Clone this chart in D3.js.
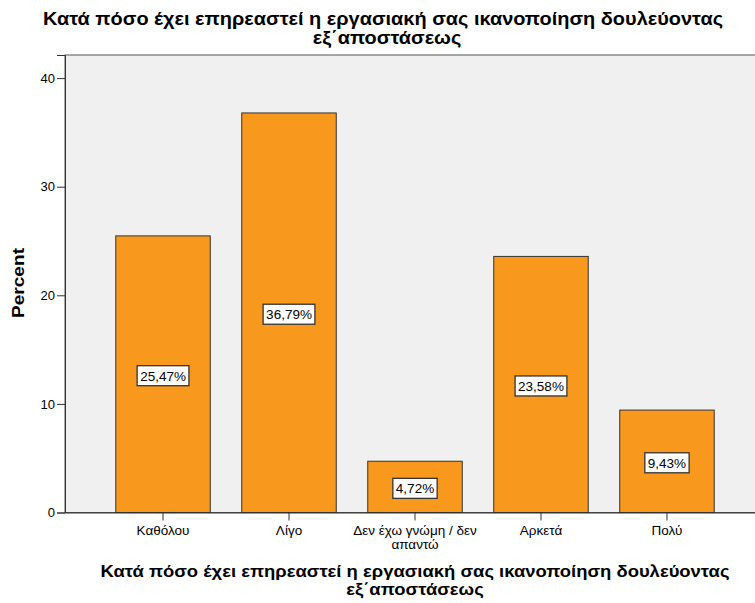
<!DOCTYPE html>
<html>
<head>
<meta charset="utf-8">
<script src="https://cdn.jsdelivr.net/npm/d3@7/dist/d3.min.js"></script>
<style>
  html, body { margin: 0; padding: 0; background: #ffffff; }
  svg { display: block; }
  text { font-family: "Liberation Sans", Arial, sans-serif; fill: #000; }
</style>
</head>
<body>
<svg id="chart" width="755" height="603"></svg>
<script>
// Survey answers and their share of respondents (%)
const categories = ["Καθόλου", "Λίγο", "Δεν έχω γνώμη / δεν απαντώ", "Αρκετά", "Πολύ"];
const percents = [25.47, 36.79, 4.72, 23.58, 9.43];
const yTicks = [0, 10, 20, 30, 40];
const titleLines = ["Κατά πόσο έχει επηρεαστεί η εργασιακή σας ικανοποίηση δουλεύοντας", "εξ΄αποστάσεως"];
const yLabel = "Percent";

const svg = d3.select("#chart");
const plot = { left: 65, right: 765, top: 55, bottom: 512.5 };
const FONT = "'Liberation Sans', Arial, sans-serif";

const x = d3.scaleBand()
  .domain(categories)
  .range([plot.left, plot.right])
  .paddingInner(0.25)
  .paddingOuter(0.403);

const y = d3.scaleLinear()
  .domain([0, (plot.bottom - plot.top) / 10.86])
  .range([plot.bottom, plot.top]);

// plot background
svg.append("rect")
  .attr("x", plot.left).attr("y", plot.top)
  .attr("width", plot.right - plot.left).attr("height", plot.bottom - plot.top)
  .attr("fill", "#f0f0f0")
  .attr("stroke", "#555").attr("stroke-width", 1);

// bars
svg.append("g").selectAll("rect")
  .data(percents)
  .join("rect")
  .attr("x", (d, i) => x(categories[i]))
  .attr("y", d => y(d))
  .attr("width", x.bandwidth())
  .attr("height", d => y(0) - y(d))
  .attr("fill", "#f8981d")
  .attr("stroke", "#333").attr("stroke-width", 1);

// y axis
const yAxis = d3.axisLeft(y).tickValues(yTicks).tickSize(8).tickPadding(2).tickFormat(d3.format("d"));
const gy = svg.append("g").attr("transform", `translate(${plot.left},0)`).call(yAxis);
gy.select(".domain").attr("stroke", "#333");
gy.selectAll(".tick line").attr("stroke", "#333");
gy.selectAll(".tick text").attr("font-size", 13).attr("fill", "#222").style("font-family", FONT);

// x axis
const xAxis = d3.axisBottom(x).tickSize(8).tickSizeOuter(0).tickPadding(3);
const gx = svg.append("g").attr("transform", `translate(0,${plot.bottom})`).call(xAxis);
gx.select(".domain").attr("stroke", "#333");
gx.selectAll(".tick line").attr("stroke", "#333");
gx.selectAll(".tick text").attr("font-size", 13.5).attr("fill", "#222").style("font-family", FONT)
  .attr("y", 0).attr("dy", null)
  .each(function(d) {
    const t = d3.select(this);
    const parts = d === "Δεν έχω γνώμη / δεν απαντώ" ? ["Δεν έχω γνώμη / δεν", "απαντώ"] : [d];
    t.text(null);
    parts.forEach((p, i) => {
      t.append("tspan").attr("x", 0).attr("y", 22 + i * 14).text(p);
    });
  });

// value labels centred on each bar
const fmt = v => v.toFixed(2).replace(".", ",") + "%";
const labels = svg.append("g").selectAll("g")
  .data(percents)
  .join("g")
  .attr("transform", (d, i) => `translate(${x(categories[i]) + x.bandwidth() / 2},${(y(d) + y(0)) / 2 + 1.5})`);
labels.append("text")
  .attr("text-anchor", "middle")
  .attr("dy", "0.36em")
  .attr("font-size", 13.5)
  .text(fmt);
labels.each(function() {
  const g = d3.select(this);
  const bb = g.select("text").node().getBBox();
  g.insert("rect", "text")
    .attr("x", bb.x - 3).attr("y", -10)
    .attr("width", bb.width + 6).attr("height", 20)
    .attr("fill", "#fff").attr("stroke", "#333").attr("stroke-width", 1.3);
});

// two-line bold title, first line stretched to a given width
function titleBlock(cx, baselines, size, width, dx2) {
  let ratio = 1;
  titleLines.forEach((line, i) => {
    const t = svg.append("text")
      .attr("x", cx + (i === 1 ? dx2 : 0)).attr("y", baselines[i])
      .attr("text-anchor", "middle")
      .attr("font-weight", "bold")
      .attr("font-size", size)
      .text(line);
    const len = t.node().getComputedTextLength();
    if (i === 0) ratio = width / len;
    t.attr("textLength", len * ratio).attr("lengthAdjust", "spacingAndGlyphs");
  });
}
titleBlock(383, [25, 44], 17.5, 680, 4);
titleBlock(415, [577, 595], 16.5, 629, 0);

// y axis title
svg.append("text")
  .attr("transform", "translate(24,283) rotate(-90)")
  .attr("text-anchor", "middle")
  .attr("font-weight", "bold")
  .attr("font-size", 16)
  .attr("textLength", 70).attr("lengthAdjust", "spacingAndGlyphs")
  .text(yLabel);
</script>
</body>
</html>
